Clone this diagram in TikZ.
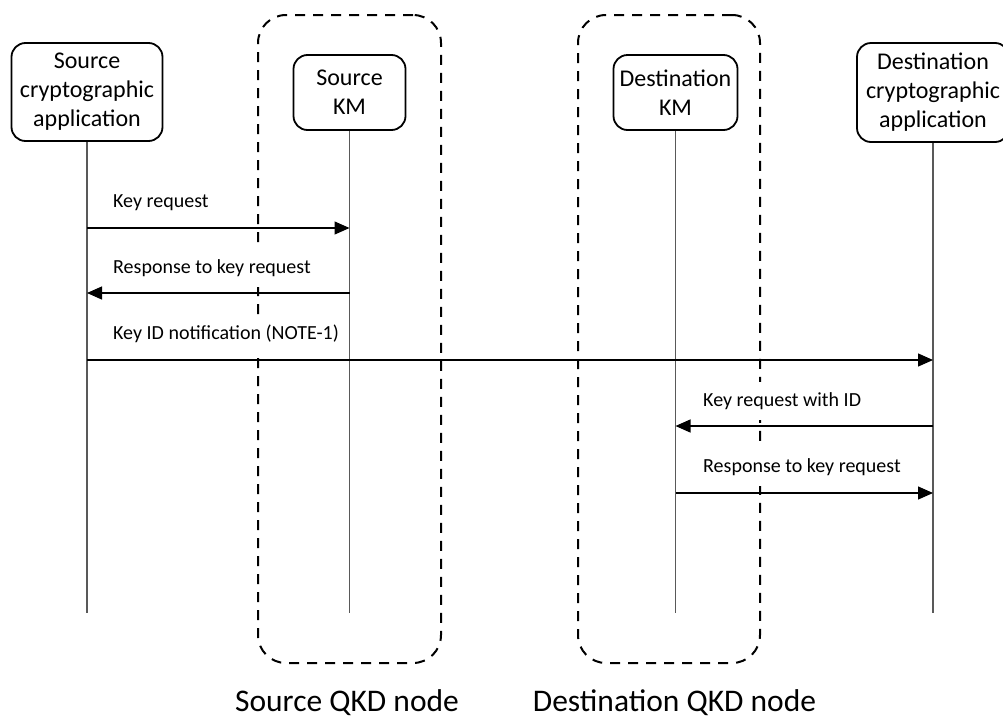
\documentclass[tikz,border=0pt]{standalone}
\usepackage{fontspec}
\setmainfont{Carlito}
\usetikzlibrary{arrows.meta}
\tikzset{
  actor/.style={draw, line width=1.8pt, rounded corners=14pt, align=center,
    font=\fontsize{24}{29}\selectfont, inner sep=0pt},
  lifeline/.style={draw=black!65, line width=1.2pt},
  msg/.style={line width=1.3pt, -{Triangle[length=15pt,width=13pt]}},
  lbl/.style={fill=white, font=\fontsize{20}{24}\selectfont, inner xsep=10pt, inner ysep=10pt, anchor=west},
  grp/.style={draw, line width=2pt, rounded corners=28pt, dash pattern=on 10pt off 8pt, inner sep=0pt},
  grplabel/.style={font=\fontsize{31.5}{36}\selectfont, anchor=base, inner sep=0pt}
}
\begin{document}
\begin{tikzpicture}[x=1pt,y=-1pt]
\useasboundingbox (0,0) rectangle (1003,718);
% QKD node groups
\node[grp, minimum width=183pt, minimum height=648pt] (srcgrp) at (349.5,339) {};
\node[grp, minimum width=182pt, minimum height=648pt] (dstgrp) at (669,339) {};
\node[grplabel] (srcgrplbl) at (347,711) {Source QKD node};
\node[grplabel] (dstgrplbl) at (674.5,711) {Destination QKD node};
% actors
\node[actor, minimum width=151pt, minimum height=98pt] (srcapp) at (87,92) {Source\\cryptographic\\application};
\node[actor, minimum width=112pt, minimum height=75pt] (srckm) at (349.5,92.5) {Source\\KM};
\node[actor, minimum width=124pt, minimum height=75pt] (dstkm) at (675.5,92.5) {Destination\\KM};
\node[actor, minimum width=152pt, minimum height=99pt] (dstapp) at (933,92.5) {Destination\\cryptographic\\application};
% lifeline ends
\coordinate (end) at (0,613);
\draw[lifeline] (srcapp.south) -- (srcapp |- end);
\draw[lifeline] (srckm.south) -- (srckm |- end);
\draw[lifeline] (dstkm.south) -- (dstkm |- end);
\draw[lifeline] (dstapp.south) -- (dstapp |- end);
% message rows
\coordinate (r1) at (0,228);
\coordinate (r2) at (0,293);
\coordinate (r3) at (0,360);
\coordinate (r4) at (0,426);
\coordinate (r5) at (0,493);
% labels
\node[lbl] (l1) at (103,203) {Key request};
\node[lbl] (l2) at (103,268) {Response to key request};
\node[lbl] (l3) at (103,334) {Key ID notification (NOTE-1)};
\node[lbl] (l4) at (693,401) {Key request with ID};
\node[lbl] (l5) at (693,467) {Response to key request};
% messages
\draw[msg] (srcapp |- r1) -- (srckm |- r1);
\draw[msg] (srckm |- r2) -- (srcapp |- r2);
\draw[msg] (srcapp |- r3) -- (dstapp |- r3);
\draw[msg] (dstapp |- r4) -- (dstkm |- r4);
\draw[msg] (dstkm |- r5) -- (dstapp |- r5);
\end{tikzpicture}
\end{document}
